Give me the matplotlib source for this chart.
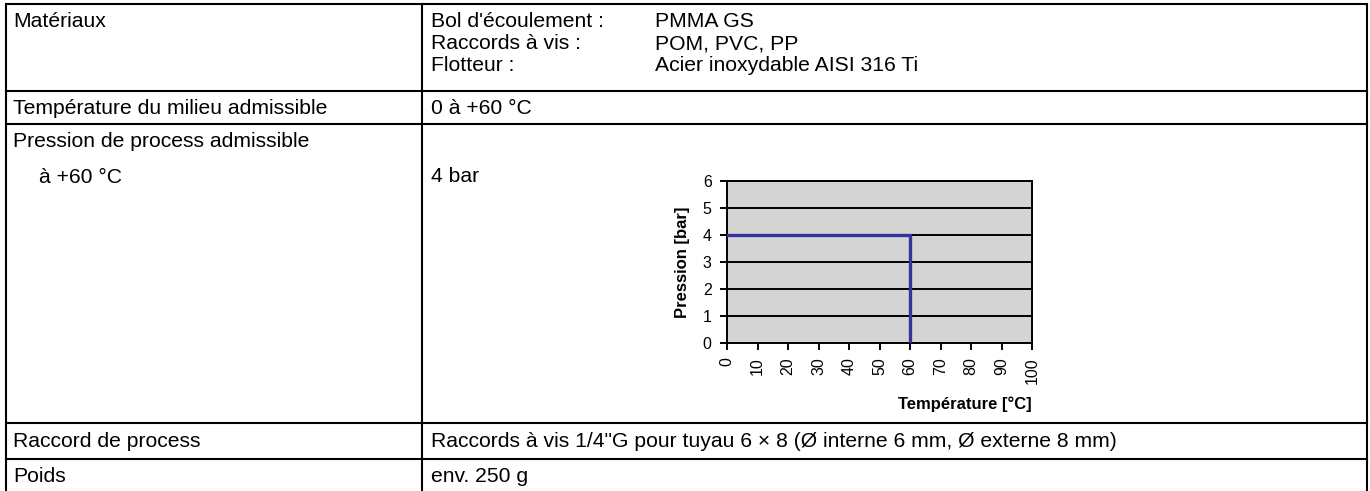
import matplotlib
matplotlib.use("Agg")
import matplotlib.pyplot as plt

plt.rcParams['font.family'] = ['Liberation Sans', 'DejaVu Sans']

# table content
row_labels = ["Matériaux", "Température du milieu admissible",
              "Pression de process admissible", "Raccord de process", "Poids"]
sub_label = "à +60 °C"
mat_keys = ["Bol d'écoulement :", "Raccords à vis :", "Flotteur :"]
mat_vals = ["PMMA GS", "POM, PVC, PP", "Acier inoxydable AISI 316 Ti"]
temp_range = "0 à +60 °C"
pressure_txt = "4 bar"
connection_txt = "Raccords à vis 1/4\"G pour tuyau 6 × 8 (Ø interne 6 mm, Ø externe 8 mm)"
weight_txt = "env. 250 g"

# pressure / temperature curve
temps = [0, 60, 60]
pressures = [4, 4, 0]
x_ticks = list(range(0, 101, 10))
y_ticks = list(range(0, 7))

W, H = 1370, 491
fig = plt.figure(figsize=(W / 100, H / 100), dpi=100)

# background axes in pixel units for the table
bg = fig.add_axes([0, 0, 1, 1])
bg.set_xlim(0, W)
bg.set_ylim(H, 0)
bg.axis('off')

left, mid, right = 6, 422, 1367
row_lines = [4, 91, 124, 423, 459]
lw = 1.5
for y in row_lines:
    bg.plot([left, right], [y, y], color='black', lw=lw, solid_capstyle='projecting')
for x in [left, mid, right]:
    bg.plot([x, x], [row_lines[0], H], color='black', lw=lw, solid_capstyle='projecting')

fs = 15.2
tx_l, tx_r, tx_r2 = 13, 431, 655
bg.text(tx_l, 27, row_labels[0], fontsize=fs, va='baseline')
for i, (k, v) in enumerate(zip(mat_keys, mat_vals)):
    bg.text(tx_r, 27 + i * 22, k, fontsize=fs, va='baseline')
    bg.text(tx_r2, 27 + i * 22, v, fontsize=fs, va='baseline')
bg.text(tx_l, 114, row_labels[1], fontsize=fs, va='baseline')
bg.text(tx_r, 114, temp_range, fontsize=fs, va='baseline')
bg.text(tx_l, 147, row_labels[2], fontsize=fs, va='baseline')
bg.text(39, 183, sub_label, fontsize=fs, va='baseline')
bg.text(tx_r, 182, pressure_txt, fontsize=fs, va='baseline')
bg.text(tx_l, 447, row_labels[3], fontsize=fs, va='baseline')
bg.text(tx_r, 447, connection_txt, fontsize=fs, va='baseline')
bg.text(tx_l, 482, row_labels[4], fontsize=fs, va='baseline')
bg.text(tx_r, 482, weight_txt, fontsize=fs, va='baseline')

# embedded chart
ax_l, ax_r, ax_t, ax_b = 727, 1032, 181, 343
ax = fig.add_axes([ax_l / W, 1 - ax_b / H, (ax_r - ax_l) / W, (ax_b - ax_t) / H])
ax.set_facecolor('#d4d4d4')
ax.plot(temps, pressures, color='#333399', lw=2.4, zorder=3)
ax.set_xlim(0, 100)
ax.set_ylim(0, 6)
ax.set_xticks(x_ticks)
ax.set_yticks(y_ticks)
ax.set_xticklabels([str(t) for t in x_ticks], rotation=90, fontsize=11.5)
ax.set_yticklabels([str(t) for t in y_ticks], fontsize=11.5)
ax.yaxis.grid(True, color='black', lw=1.4)
ax.set_axisbelow(True)
for s in ax.spines.values():
    s.set_linewidth(1.4)
ax.tick_params(direction='out', length=5, width=1.4)
ax.tick_params(axis='x', pad=5)
ax.tick_params(axis='y', pad=6)
ax.set_ylabel("Pression [bar]", fontsize=12, fontweight='bold', labelpad=9)
ax.set_xlabel("Température [°C]", fontsize=12, fontweight='bold', loc='right', labelpad=9)

fig.savefig("out.png", dpi=100)
